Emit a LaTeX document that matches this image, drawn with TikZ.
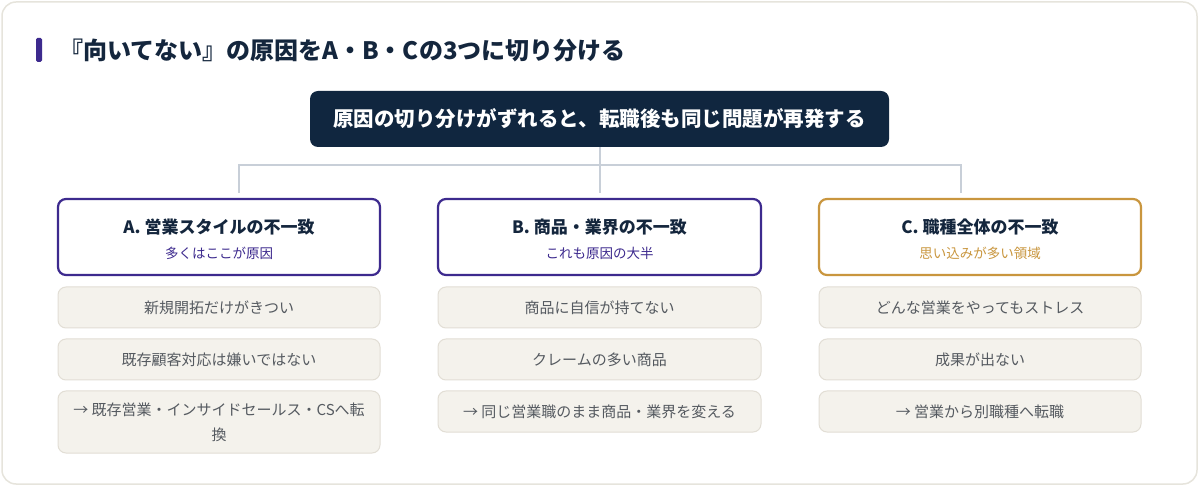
\documentclass[tikz,border=0pt]{standalone}
\usepackage{fontspec}
\setmainfont{Noto Sans CJK JP}
\usepackage{xcolor}
\usepackage{tikz}
\usetikzlibrary{positioning}
\definecolor{navy}{HTML}{10263F}
\definecolor{inkdark}{HTML}{14263D}
\definecolor{causeA}{HTML}{3D2A8E}
\definecolor{causeC}{HTML}{C9963E}
\definecolor{itemfill}{HTML}{F4F2EC}
\definecolor{itemline}{HTML}{E2DED5}
\definecolor{itemtext}{HTML}{555A60}
\definecolor{wire}{HTML}{C8CFD8}
\definecolor{cardline}{HTML}{E6E4DC}

\begin{document}
\begin{tikzpicture}[x=1pt,y=-1pt,
  causebox/.style={draw=#1,line width=2.2pt,fill=white,rounded corners=8pt,
    minimum width=322pt,minimum height=76pt,inner sep=0pt},
  causetitle/.style={font=\fontsize{17}{20}\selectfont\bfseries,text=inkdark},
  causenote/.style={font=\fontsize{13.5}{16}\selectfont,text=#1},
  itembox/.style={draw=itemline,line width=1pt,fill=itemfill,rounded corners=8pt,
    minimum width=322pt,minimum height=41pt,inner sep=0pt,align=center,
    text=itemtext,font=\fontsize{15}{25}\selectfont},
  wireline/.style={draw=wire,line width=2pt}]
  \useasboundingbox (0,0) rectangle (1200,486);
  % card
  \draw[cardline,fill=white,line width=1.5pt,rounded corners=14pt] (2,2) rectangle (1197,484);

  % heading
  \fill[causeA,rounded corners=1.5pt] (36,38) rectangle (42,62);
  \node[anchor=west,font=\fontsize{24}{27}\selectfont\bfseries,text=inkdark,inner sep=0pt]
    (heading) at (59,50) {『向いてない』の原因をA・B・Cの3つに切り分ける};

  % top message
  \node[fill=navy,rounded corners=8pt,minimum width=579pt,minimum height=56pt,
    text=white,font=\fontsize{20.5}{24}\selectfont\bfseries] (topmsg) at (599.5,119)
    {原因の切り分けがずれると、転職後も同じ問題が再発する};

  % three causes
  \node[causebox=causeA] (boxA) at (219,237) {};
  \node[causetitle] at ([yshift=10pt]boxA.center) {A. 営業スタイルの不一致};
  \node[causenote=causeA] at ([yshift=-16pt]boxA.center) {多くはここが原因};

  \node[causebox=causeA,minimum width=323pt] (boxB) at (599.5,237) {};
  \node[causetitle] at ([yshift=10pt]boxB.center) {B. 商品・業界の不一致};
  \node[causenote=causeA] at ([yshift=-16pt]boxB.center) {これも原因の大半};

  \node[causebox=causeC] (boxC) at (980,237) {};
  \node[causetitle] at ([yshift=10pt]boxC.center) {C. 職種全体の不一致};
  \node[causenote=causeC] at ([yshift=-16pt]boxC.center) {思い込みが多い領域};

  % tree wiring
  \coordinate (hubL) at (239,165);
  \coordinate (hubR) at (961,165);
  \draw[wireline] (topmsg.south) -- ([yshift=5pt]topmsg.south |- boxB.north);
  \draw[wireline] ([yshift=5pt]hubL |- boxA.north) -- (hubL) -- (hubR)
    -- ([yshift=5pt]hubR |- boxC.north);

  % symptoms and moves
  \node[itembox] (a1) at (219,307.5) {新規開拓だけがきつい};
  \node[itembox] (a2) at (219,359.5) {既存顧客対応は嫌いではない};
  \node[itembox,minimum height=62pt] (a3) at (219,422)
    {→ 既存営業・インサイドセールス・CSへ転\\換};

  \node[itembox,minimum width=323pt] (b1) at (599.5,307.5) {商品に自信が持てない};
  \node[itembox,minimum width=323pt] (b2) at (599.5,359.5) {クレームの多い商品};
  \node[itembox,minimum width=323pt] (b3) at (599.5,411.5) {→ 同じ営業職のまま商品・業界を変える};

  \node[itembox] (c1) at (980,307.5) {どんな営業をやってもストレス};
  \node[itembox] (c2) at (980,359.5) {成果が出ない};
  \node[itembox] (c3) at (980,411.5) {→ 営業から別職種へ転職};
\end{tikzpicture}
\end{document}
